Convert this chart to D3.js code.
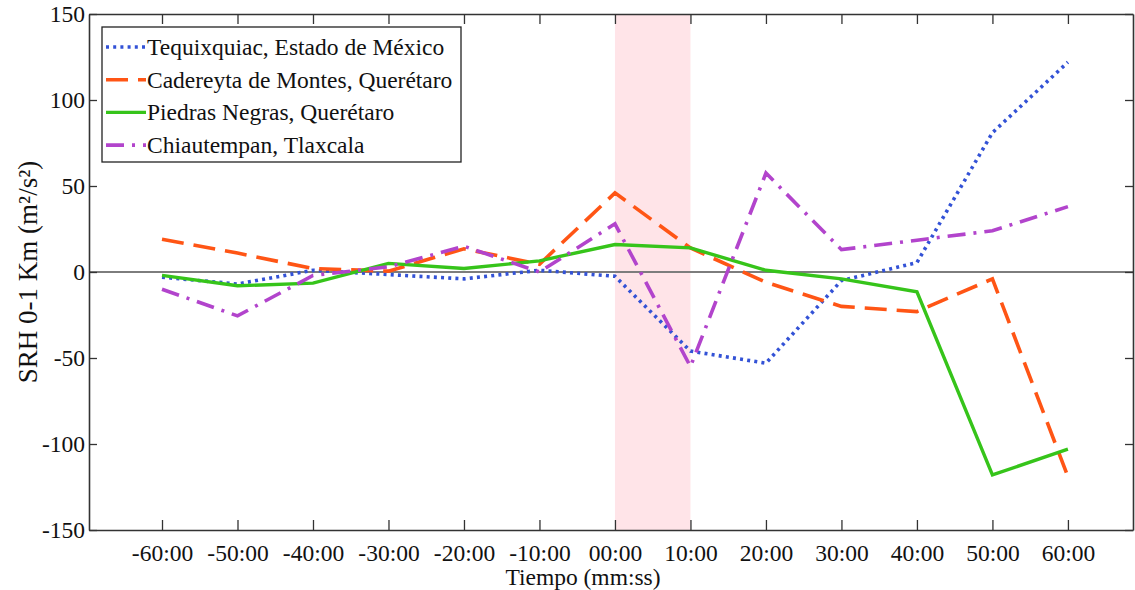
<!DOCTYPE html>
<html>
<head>
<meta charset="utf-8">
<script src="https://cdn.jsdelivr.net/npm/d3@7"></script>
<style>
  body { margin: 0; background: #fff; }
  text { font-family: "Liberation Serif", "Times New Roman", serif; fill: #111; }
</style>
</head>
<body>
<div id="chart"></div>
<script>
// tick labels / categories
const tiempos = ["-60:00", "-50:00", "-40:00", "-30:00", "-20:00", "-10:00", "00:00",
                 "10:00", "20:00", "30:00", "40:00", "50:00", "60:00"];

// series values
const tequixquiac = [-3, -7, 1, -1.5, -4, 1, -2.5, -46, -53, -5, 5.5, 81, 122];
const cadereyta   = [19, 11, 2, 0.5, 13.5, 4.5, 46, 14, -6, -20, -23, -4, -119];
const piedras     = [-2, -8, -6.5, 5, 2, 6.5, 16, 14, 1, -4, -11.5, -118, -103];
const chiautempan = [-10, -25.5, -2, 3, 15, 0, 28, -55, 57.5, 13, 18.5, 24, 38];

const yTicks = [-150, -100, -50, 0, 50, 100, 150];
const shadeRange = ["00:00", "10:00"];

const seriesNames = ["Tequixquiac, Estado de México", "Cadereyta de Montes, Querétaro",
                     "Piedras Negras, Querétaro", "Chiautempan, Tlaxcala"];

const series = [
  { name: seriesNames[0], values: tequixquiac, color: "#3352d6", dash: "3,4.2", width: 3.6 },
  { name: seriesNames[1], values: cadereyta,   color: "#ff5515", dash: "22,10", width: 3.6 },
  { name: seriesNames[2], values: piedras,     color: "#36c41a", dash: null,    width: 3.4 },
  { name: seriesNames[3], values: chiautempan, color: "#b244cc", dash: "18,8,3,8", width: 3.6 }
];

const W = 1135, H = 590;
const box = { left: 89, right: 1133, top: 14, bottom: 530 };
const fontSize = "23.5px";

const svg = d3.select("#chart").append("svg")
  .attr("width", W).attr("height", H);

// x: index of the time step
const xScale = d3.scaleLinear()
  .domain([-0.967, 12.862])
  .range([box.left, box.right]);

const yScale = d3.scaleLinear()
  .domain([-150, 150])
  .range([box.bottom, box.top]);

// shaded window 00:00 - 10:00
svg.append("rect")
  .attr("x", xScale(tiempos.indexOf(shadeRange[0])))
  .attr("y", box.top)
  .attr("width", xScale(tiempos.indexOf(shadeRange[1])) - xScale(tiempos.indexOf(shadeRange[0])))
  .attr("height", box.bottom - box.top)
  .attr("fill", "#ffe4e8");

// zero line
svg.append("line")
  .attr("x1", box.left).attr("x2", box.right)
  .attr("y1", yScale(0)).attr("y2", yScale(0))
  .attr("stroke", "#7d7d7d").attr("stroke-width", 2);

// lines
const line = d3.line()
  .x((d, i) => xScale(i))
  .y(d => yScale(d));

svg.selectAll(".serie")
  .data(series)
  .enter().append("path")
  .attr("class", "serie")
  .attr("d", d => line(d.values))
  .attr("fill", "none")
  .attr("stroke", d => d.color)
  .attr("stroke-width", d => d.width)
  .attr("stroke-dasharray", d => d.dash)
  .attr("stroke-linejoin", "miter");

// axes (ticks pointing inward, mirrored on top/right)
const idx = d3.range(tiempos.length);
const axisColor = "#333";

const xBottom = svg.append("g")
  .attr("transform", `translate(0,${box.bottom})`)
  .call(d3.axisBottom(xScale).tickValues(idx).tickFormat(i => tiempos[i])
    .tickSizeInner(-10).tickSizeOuter(0).tickPadding(14));
const xTop = svg.append("g")
  .attr("transform", `translate(0,${box.top})`)
  .call(d3.axisTop(xScale).tickValues(idx).tickFormat("")
    .tickSizeInner(-10).tickSizeOuter(0));
const yLeft = svg.append("g")
  .attr("transform", `translate(${box.left},0)`)
  .call(d3.axisLeft(yScale).tickValues(yTicks).tickFormat(d => String(d))
    .tickSizeInner(-8).tickSizeOuter(0).tickPadding(4));
const yRight = svg.append("g")
  .attr("transform", `translate(${box.right},0)`)
  .call(d3.axisRight(yScale).tickValues(yTicks).tickFormat("")
    .tickSizeInner(-8).tickSizeOuter(0));

[xBottom, xTop, yLeft, yRight].forEach(g => {
  g.select(".domain").attr("stroke", axisColor).attr("stroke-width", 1.6);
  g.selectAll(".tick line").attr("stroke", axisColor).attr("stroke-width", 1.3);
  g.selectAll(".tick text")
    .style("font-family", '"Liberation Serif", "Times New Roman", serif')
    .style("font-size", fontSize).attr("fill", "#111");
});

// axis titles
svg.append("text")
  .attr("x", 583).attr("y", 585)
  .attr("text-anchor", "middle")
  .style("font-size", fontSize)
  .text("Tiempo (mm:ss)");

svg.append("text")
  .attr("transform", `translate(37,${yScale(0)}) rotate(-90)`)
  .attr("text-anchor", "middle")
  .style("font-size", "27px")
  .text("SRH 0-1 Km (m²/s²)");

// legend
const legend = svg.append("g").attr("transform", "translate(102,27)");
legend.append("rect")
  .attr("width", 359).attr("height", 135)
  .attr("fill", "#fff").attr("stroke", "#222").attr("stroke-width", 1.3);

const item = legend.selectAll(".item")
  .data(series)
  .enter().append("g")
  .attr("class", "item")
  .attr("transform", (d, i) => `translate(0,${20 + i * 32.7})`);

item.append("line")
  .attr("x1", 4).attr("x2", 44)
  .attr("stroke", d => d.color)
  .attr("stroke-width", d => d.width)
  .attr("stroke-dasharray", d => d.dash);

item.append("text")
  .attr("x", 45).attr("y", 8)
  .style("font-size", fontSize)
  .text(d => d.name);
</script>
</body>
</html>
